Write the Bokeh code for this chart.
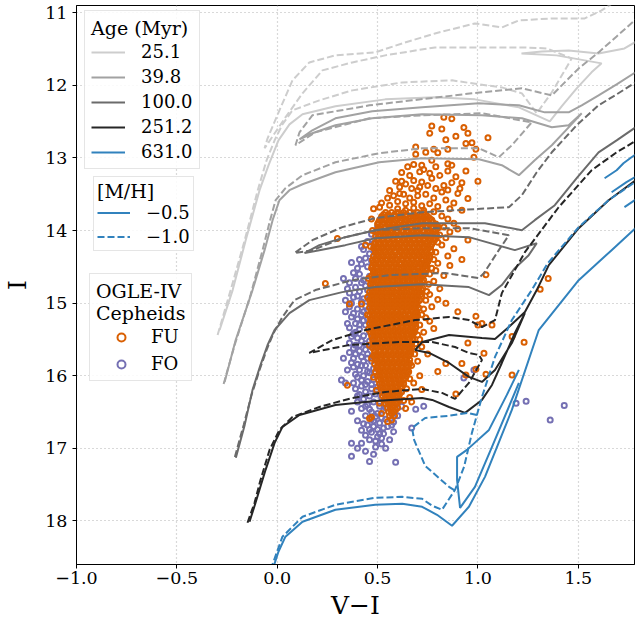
from bokeh.plotting import figure
from bokeh.models import Range1d, Legend, LegendItem, FixedTicker, CustomJSTickFormatter
from bokeh.embed import file_html
from bokeh.resources import INLINE

SERIF = "DejaVu Serif"

# ---------------------------------------------------------------------------
# Isochrone tracks, (V-I, I) pairs.  Solid: [M/H] = -0.5, dashed: [M/H] = -1.0
# ---------------------------------------------------------------------------
iso_25_solid = [(-0.287, 15.370), (-0.222, 14.820), (-0.157, 14.133), (-0.088, 13.444), (-0.043, 13.100),
                (0.006, 12.757), (0.061, 12.537), (0.126, 12.399), (0.290, 12.289), (0.538, 12.193),
                (0.786, 12.165), (0.985, 12.193), (1.204, 12.303), (1.358, 12.495), (1.417, 12.289),
                (1.492, 12.041), (1.566, 11.821), (1.616, 11.697), (1.532, 11.656), (1.392, 11.587),
                (1.217, 11.560), (1.318, 11.532), (1.452, 11.519), (1.601, 11.560), (1.730, 11.491),
                (1.815, 11.354)]
iso_25_dashed = [(-0.297, 15.439), (-0.232, 14.820), (-0.162, 14.133), (-0.097, 13.444), (-0.053, 13.032),
                 (-0.013, 12.757), (0.026, 12.537), (0.076, 12.344), (0.210, 12.206), (0.374, 12.069),
                 (0.623, 11.959), (0.871, 11.931), (1.005, 11.986), (1.119, 12.028), (1.219, 12.110),
                 (1.293, 12.385), (1.368, 12.096), (1.427, 11.821), (1.467, 11.629), (1.343, 11.491),
                 (1.219, 11.477), (1.005, 11.477), (0.786, 11.477), (0.538, 11.587), (0.374, 11.684),
                 (0.225, 11.794), (0.126, 12.110), (0.041, 12.440), (-0.063, 12.867), (-0.048, 12.729),
                 (0.011, 12.344), (0.076, 11.931), (0.160, 11.684), (0.290, 11.587), (0.488, 11.546),
                 (0.623, 11.422), (0.786, 11.285), (0.985, 11.147), (1.119, 11.202), (1.204, 11.106),
                 (1.368, 11.078), (1.532, 11.078), (1.616, 10.968), (1.676, 10.858)]

iso_40_solid = [(-0.262, 16.085), (-0.207, 15.508), (-0.123, 14.820), (-0.063, 14.270), (-0.023, 13.857),
                (0.011, 13.582), (0.061, 13.444), (0.126, 13.362), (0.290, 13.197), (0.508, 13.059),
                (0.722, 13.004), (1.005, 13.018), (1.119, 13.100), (1.204, 13.238), (1.283, 13.032),
                (1.368, 12.825), (1.452, 12.578), (1.517, 12.385), (1.452, 12.550), (1.368, 12.578),
                (1.219, 12.454), (1.020, 12.413), (0.722, 12.399), (0.473, 12.454), (0.290, 12.550),
                (0.175, 12.660), (0.111, 12.743), (0.175, 12.619), (0.290, 12.454), (0.473, 12.358),
                (0.722, 12.303), (1.005, 12.248), (1.204, 12.275), (1.333, 12.372), (1.452, 12.372),
                (1.517, 12.275), (1.601, 12.138), (1.691, 11.986), (1.785, 11.821), (1.840, 11.711)]
iso_40_dashed = [(-0.267, 16.113), (-0.212, 15.577), (-0.133, 14.889), (-0.073, 14.270), (-0.038, 13.884),
                 (-0.008, 13.582), (0.041, 13.417), (0.126, 13.238), (0.290, 13.059), (0.508, 12.935),
                 (0.722, 12.867), (1.005, 12.867), (1.104, 12.990), (1.169, 12.825), (1.268, 12.509),
                 (1.020, 12.385), (0.722, 12.413), (0.459, 12.454), (0.190, 12.647), (0.091, 12.825),
                 (0.111, 12.647), (0.175, 12.413), (0.459, 12.275), (0.672, 12.206), (0.970, 12.110),
                 (1.219, 12.041), (1.368, 12.138), (1.502, 11.766), (1.601, 11.546), (1.691, 11.326),
                 (1.780, 11.106), (1.840, 10.968)]

iso_100_solid = [(-0.206, 17.131), (-0.162, 16.677), (-0.123, 16.195), (-0.083, 15.851), (-0.048, 15.576),
                 (-0.013, 15.370), (0.061, 15.137), (0.160, 14.958), (0.324, 14.848), (0.488, 14.779),
                 (0.722, 14.738), (0.955, 14.779), (1.055, 14.889), (1.119, 14.751), (1.184, 14.518),
                 (1.253, 14.339), (1.293, 14.174), (1.184, 14.270), (0.955, 14.091), (0.722, 14.064),
                 (0.488, 14.105), (0.339, 14.201), (0.210, 14.270), (0.136, 14.311), (0.210, 14.201),
                 (0.339, 14.091), (0.488, 13.995), (0.722, 13.898), (1.035, 13.898), (1.219, 13.995),
                 (1.283, 13.857), (1.383, 13.651), (1.492, 13.279), (1.601, 12.922), (1.691, 12.757),
                 (1.785, 12.578), (1.840, 12.454)]
iso_100_dashed = [(-0.211, 17.118), (-0.167, 16.677), (-0.128, 16.264), (-0.088, 15.920), (-0.053, 15.645),
                  (-0.018, 15.411), (0.026, 15.191), (0.086, 14.958), (0.190, 14.820), (0.374, 14.683),
                  (0.558, 14.614), (0.836, 14.586), (1.005, 14.655), (1.030, 14.586), (1.104, 14.270),
                  (1.154, 14.064), (0.955, 13.967), (0.722, 13.967), (0.488, 13.995), (0.339, 14.091),
                  (0.175, 14.270), (0.086, 14.311), (0.175, 14.133), (0.324, 13.953), (0.488, 13.829),
                  (0.722, 13.747), (1.154, 13.678), (1.219, 13.513), (1.293, 13.197), (1.368, 12.922),
                  (1.492, 12.550), (1.601, 12.275), (1.691, 12.124), (1.785, 11.959), (1.840, 11.862)]

iso_251_solid = [(-0.138, 18.011), (-0.108, 17.750), (-0.058, 17.296), (-0.013, 16.924), (0.026, 16.704),
                 (0.111, 16.540), (0.290, 16.402), (0.488, 16.347), (0.722, 16.306), (0.772, 16.333),
                 (0.856, 16.430), (0.936, 16.512), (1.020, 16.333), (1.070, 16.127), (1.119, 15.824),
                 (1.184, 15.411), (1.234, 15.137), (1.169, 15.549), (1.085, 15.920), (1.020, 16.085),
                 (0.955, 16.016), (0.856, 15.824), (0.757, 15.686), (0.687, 15.645), (0.722, 15.535),
                 (0.856, 15.439), (1.020, 15.480), (1.085, 15.494), (1.154, 15.329), (1.234, 15.123),
                 (1.293, 14.820), (1.353, 14.476), (1.502, 13.967), (1.651, 13.582), (1.840, 13.197)]
iso_251_dashed = [(-0.148, 18.025), (-0.113, 17.750), (-0.083, 17.434), (-0.038, 17.021), (0.011, 16.746),
                  (0.076, 16.567), (0.210, 16.430), (0.374, 16.306), (0.538, 16.223), (0.722, 16.182),
                  (0.821, 16.237), (0.886, 16.319), (0.955, 16.099), (1.020, 15.783), (1.005, 15.714),
                  (0.955, 15.686), (0.886, 15.604), (0.772, 15.535), (0.608, 15.535), (0.359, 15.576),
                  (0.160, 15.686), (0.275, 15.508), (0.439, 15.370), (0.687, 15.233), (0.856, 15.191),
                  (0.955, 15.233), (1.020, 15.329), (1.085, 15.233), (1.119, 14.862), (1.234, 14.298),
                  (1.402, 13.679), (1.566, 13.170), (1.691, 12.922), (1.840, 12.675)]

iso_631_solid = [(-0.023, 18.671), (0.006, 18.424), (0.041, 18.217), (0.126, 18.011), (0.290, 17.846),
                 (0.488, 17.777), (0.623, 17.764), (0.722, 17.805), (0.796, 17.915), (0.871, 18.066),
                 (0.955, 17.805), (1.035, 17.393), (1.169, 16.471), (1.303, 15.370), (1.502, 14.683),
                 (1.666, 14.270), (1.840, 13.829)]
iso_631_solid_loop = [(1.204, 16.099), (1.070, 16.980), (0.985, 17.530), (0.911, 17.819), (0.896, 17.434),
                      (0.896, 17.118), (0.945, 17.021), (1.055, 16.746), (1.144, 16.264), (1.204, 15.920)]
iso_631_solid_agb = [[(1.631, 13.279), (1.691, 13.169), (1.725, 13.073), (1.765, 12.990), (1.840, 12.853)],
                     [(1.666, 13.472), (1.740, 13.334), (1.840, 13.169)],
                     [(1.730, 13.678), (1.840, 13.472)]]
iso_631_dashed = [(-0.033, 18.671), (0.026, 18.217), (0.126, 17.942), (0.290, 17.777), (0.488, 17.681),
                  (0.623, 17.668), (0.722, 17.695), (0.772, 17.791), (0.821, 17.846), (0.886, 17.571),
                  (0.931, 17.255), (0.970, 16.787), (1.020, 16.292), (1.085, 15.741), (1.169, 15.232),
                  (1.268, 14.820), (1.348, 14.449), (1.502, 13.953), (1.651, 13.582), (1.840, 13.224)]
iso_631_dashed_loop = [(0.995, 16.540), (0.950, 16.512), (0.851, 16.553), (0.737, 16.581), (0.672, 16.719),
                       (0.682, 16.884), (0.737, 17.241), (0.856, 17.530), (0.896, 17.599)]

ages = ["25.1", "39.8", "100.0", "251.2", "631.0"]
age_colors = ["#cdcdcd", "#a2a2a2", "#6b6b6b", "#262626", "#3182bd"]
mh_labels = ["\u22120.5", "\u22121.0"]

# ---------------------------------------------------------------------------
# OGLE-IV Cepheids in the (V-I, I) plane
# ---------------------------------------------------------------------------
# fundamental-mode core: one row of V-I values per I level (two interleaved sets)
fu_core_rows = [
    (13.750, [0.54, 0.57, 0.60, 0.63, 0.66, 0.70, 0.73]),
    (13.805, [0.52, 0.555, 0.585, 0.61, 0.64, 0.665, 0.69, 0.72, 0.75]),
    (13.855, [0.51, 0.535, 0.56, 0.59, 0.615, 0.64, 0.67, 0.695, 0.72, 0.745, 0.77]),
    (13.910, [0.50, 0.525, 0.55, 0.575, 0.60, 0.63, 0.655, 0.68, 0.705, 0.73, 0.76, 0.79]),
    (13.965, [0.505, 0.535, 0.56, 0.585, 0.61, 0.64, 0.665, 0.69, 0.715, 0.745, 0.77, 0.80]),
    (14.020, [0.495, 0.52, 0.545, 0.57, 0.595, 0.625, 0.65, 0.675, 0.70, 0.73, 0.755, 0.78]),
    (14.075, [0.49, 0.515, 0.54, 0.565, 0.59, 0.615, 0.64, 0.665, 0.69, 0.715, 0.74, 0.765, 0.795]),
    (14.130, [0.50, 0.525, 0.55, 0.58, 0.605, 0.63, 0.655, 0.68, 0.705, 0.73, 0.76, 0.785]),
    (14.185, [0.485, 0.51, 0.535, 0.56, 0.585, 0.61, 0.64, 0.665, 0.69, 0.715, 0.74, 0.77]),
    (14.240, [0.48, 0.505, 0.53, 0.555, 0.58, 0.605, 0.63, 0.655, 0.68, 0.705, 0.73, 0.755]),
    (14.295, [0.49, 0.515, 0.54, 0.565, 0.59, 0.615, 0.645, 0.67, 0.695, 0.72, 0.745, 0.77]),
    (14.350, [0.48, 0.505, 0.53, 0.555, 0.58, 0.61, 0.635, 0.66, 0.685, 0.71, 0.735, 0.76]),
    (14.405, [0.475, 0.50, 0.525, 0.55, 0.575, 0.60, 0.625, 0.65, 0.675, 0.70, 0.725, 0.75]),
    (14.460, [0.485, 0.51, 0.535, 0.56, 0.59, 0.615, 0.64, 0.665, 0.69, 0.715, 0.74]),
    (14.515, [0.47, 0.495, 0.52, 0.545, 0.57, 0.595, 0.62, 0.645, 0.67, 0.70, 0.725, 0.745]),
    (14.570, [0.48, 0.505, 0.53, 0.555, 0.58, 0.605, 0.63, 0.655, 0.68, 0.705, 0.73]),
    (14.625, [0.47, 0.495, 0.52, 0.545, 0.57, 0.60, 0.625, 0.65, 0.675, 0.70, 0.725]),
    (14.680, [0.475, 0.50, 0.525, 0.55, 0.575, 0.60, 0.63, 0.655, 0.68, 0.705, 0.73]),
    (14.735, [0.465, 0.49, 0.515, 0.54, 0.565, 0.59, 0.615, 0.64, 0.665, 0.69, 0.715]),
    (14.790, [0.47, 0.50, 0.525, 0.55, 0.575, 0.60, 0.625, 0.65, 0.68, 0.705, 0.725]),
    (14.845, [0.46, 0.485, 0.51, 0.535, 0.56, 0.585, 0.61, 0.635, 0.66, 0.685, 0.71]),
    (14.900, [0.47, 0.495, 0.52, 0.545, 0.57, 0.595, 0.62, 0.645, 0.67, 0.695, 0.72]),
    (14.955, [0.46, 0.485, 0.51, 0.535, 0.56, 0.59, 0.615, 0.64, 0.665, 0.69, 0.71]),
    (15.010, [0.465, 0.49, 0.515, 0.54, 0.565, 0.59, 0.615, 0.64, 0.665, 0.69]),
    (15.065, [0.46, 0.485, 0.51, 0.535, 0.56, 0.585, 0.61, 0.635, 0.66, 0.685, 0.705]),
    (15.120, [0.47, 0.495, 0.52, 0.545, 0.57, 0.595, 0.62, 0.645, 0.67, 0.695]),
    (15.175, [0.46, 0.485, 0.51, 0.535, 0.56, 0.585, 0.61, 0.635, 0.66, 0.685, 0.70]),
    (15.230, [0.465, 0.49, 0.515, 0.54, 0.565, 0.59, 0.615, 0.64, 0.665, 0.69]),
    (15.285, [0.46, 0.485, 0.51, 0.535, 0.56, 0.585, 0.61, 0.635, 0.66, 0.685]),
    (15.340, [0.47, 0.495, 0.52, 0.545, 0.57, 0.595, 0.62, 0.645, 0.67, 0.69]),
    (15.395, [0.465, 0.49, 0.515, 0.54, 0.565, 0.59, 0.615, 0.64, 0.665, 0.685]),
    (15.450, [0.47, 0.495, 0.52, 0.545, 0.57, 0.595, 0.62, 0.645, 0.67]),
    (15.505, [0.475, 0.50, 0.525, 0.55, 0.575, 0.60, 0.625, 0.65, 0.675]),
    (15.560, [0.48, 0.505, 0.53, 0.555, 0.58, 0.605, 0.63, 0.655, 0.67]),
    (15.615, [0.475, 0.50, 0.525, 0.55, 0.575, 0.60, 0.625, 0.65, 0.67]),
    (15.670, [0.485, 0.51, 0.535, 0.56, 0.585, 0.61, 0.635, 0.66]),
    (15.725, [0.48, 0.505, 0.53, 0.555, 0.58, 0.605, 0.63, 0.655]),
    (15.780, [0.49, 0.515, 0.54, 0.565, 0.59, 0.615, 0.64, 0.66]),
    (15.835, [0.485, 0.51, 0.535, 0.56, 0.585, 0.61, 0.635, 0.66]),
    (15.890, [0.495, 0.52, 0.545, 0.57, 0.595, 0.62, 0.645]),
    (15.945, [0.49, 0.515, 0.54, 0.565, 0.59, 0.615, 0.64, 0.655]),
    (16.000, [0.50, 0.525, 0.55, 0.575, 0.60, 0.625, 0.645]),
    (16.055, [0.505, 0.53, 0.555, 0.58, 0.605, 0.63]),
    (16.110, [0.51, 0.535, 0.56, 0.585, 0.61, 0.63]),
    (16.165, [0.515, 0.54, 0.565, 0.59, 0.615]),
    (16.220, [0.52, 0.545, 0.57, 0.595, 0.62]),
    (16.275, [0.525, 0.55, 0.575, 0.60]),
    (16.330, [0.535, 0.56, 0.585, 0.61]),
    (16.385, [0.54, 0.565, 0.59]),
    (16.440, [0.55, 0.575, 0.60]),
    (16.495, [0.555, 0.58]),
    (16.550, [0.56, 0.585]),
    (16.610, [0.57]),
    (13.780, [0.53, 0.555, 0.585, 0.615, 0.645, 0.68, 0.71, 0.74]),
    (13.830, [0.52, 0.545, 0.57, 0.60, 0.625, 0.655, 0.68, 0.705, 0.735, 0.76]),
    (13.885, [0.505, 0.53, 0.56, 0.585, 0.61, 0.64, 0.665, 0.69, 0.72, 0.745, 0.775]),
    (13.940, [0.515, 0.54, 0.565, 0.59, 0.615, 0.645, 0.67, 0.695, 0.72, 0.745, 0.775, 0.80]),
    (13.995, [0.50, 0.52, 0.55, 0.575, 0.60, 0.625, 0.65, 0.68, 0.705, 0.73, 0.76, 0.79]),
    (14.050, [0.505, 0.53, 0.555, 0.58, 0.61, 0.635, 0.66, 0.685, 0.71, 0.74, 0.765, 0.79]),
    (14.105, [0.50, 0.525, 0.55, 0.575, 0.60, 0.625, 0.65, 0.68, 0.705, 0.73, 0.755, 0.78]),
    (14.160, [0.49, 0.515, 0.54, 0.565, 0.59, 0.62, 0.645, 0.67, 0.695, 0.72, 0.75, 0.775]),
    (14.215, [0.495, 0.52, 0.545, 0.57, 0.595, 0.625, 0.65, 0.675, 0.70, 0.725, 0.75, 0.765]),
    (14.270, [0.49, 0.515, 0.54, 0.565, 0.59, 0.62, 0.645, 0.67, 0.695, 0.72, 0.745, 0.765]),
    (14.325, [0.495, 0.52, 0.545, 0.57, 0.60, 0.625, 0.65, 0.675, 0.70, 0.725, 0.75]),
    (14.380, [0.49, 0.515, 0.54, 0.565, 0.59, 0.62, 0.645, 0.67, 0.695, 0.72, 0.745, 0.76]),
    (14.435, [0.48, 0.505, 0.53, 0.56, 0.585, 0.61, 0.635, 0.66, 0.685, 0.71, 0.735, 0.75]),
    (14.490, [0.475, 0.50, 0.525, 0.55, 0.575, 0.60, 0.63, 0.655, 0.68, 0.705, 0.73, 0.745]),
    (14.545, [0.48, 0.51, 0.535, 0.56, 0.585, 0.61, 0.635, 0.66, 0.685, 0.715, 0.74]),
    (14.600, [0.48, 0.505, 0.53, 0.555, 0.585, 0.61, 0.635, 0.66, 0.69, 0.715, 0.735]),
    (14.655, [0.485, 0.51, 0.535, 0.56, 0.59, 0.615, 0.64, 0.665, 0.69, 0.715]),
    (14.710, [0.475, 0.50, 0.53, 0.555, 0.58, 0.605, 0.63, 0.655, 0.68, 0.705, 0.725]),
    (14.765, [0.48, 0.505, 0.53, 0.555, 0.58, 0.61, 0.635, 0.66, 0.685, 0.71]),
    (14.820, [0.475, 0.50, 0.52, 0.545, 0.57, 0.595, 0.62, 0.645, 0.67, 0.695, 0.72]),
    (14.875, [0.47, 0.495, 0.52, 0.55, 0.575, 0.60, 0.625, 0.65, 0.675, 0.70, 0.715]),
    (14.930, [0.475, 0.50, 0.525, 0.55, 0.575, 0.60, 0.63, 0.655, 0.68, 0.70]),
    (14.985, [0.47, 0.50, 0.525, 0.55, 0.575, 0.60, 0.625, 0.65, 0.675, 0.70]),
    (15.040, [0.475, 0.50, 0.525, 0.55, 0.575, 0.60, 0.625, 0.65, 0.675, 0.695]),
    (15.095, [0.47, 0.495, 0.52, 0.545, 0.57, 0.595, 0.625, 0.65, 0.675, 0.69]),
    (15.150, [0.475, 0.50, 0.525, 0.55, 0.575, 0.60, 0.63, 0.655, 0.68, 0.695]),
    (15.205, [0.47, 0.50, 0.525, 0.55, 0.575, 0.60, 0.625, 0.65, 0.675, 0.69]),
    (15.260, [0.475, 0.50, 0.525, 0.55, 0.575, 0.60, 0.625, 0.65, 0.675]),
    (15.315, [0.47, 0.495, 0.52, 0.545, 0.57, 0.60, 0.625, 0.65, 0.675, 0.69]),
    (15.370, [0.475, 0.50, 0.53, 0.555, 0.58, 0.605, 0.63, 0.655, 0.68]),
    (15.425, [0.48, 0.505, 0.53, 0.555, 0.58, 0.605, 0.63, 0.655, 0.675]),
    (15.480, [0.48, 0.505, 0.535, 0.56, 0.585, 0.61, 0.635, 0.66, 0.675]),
    (15.535, [0.49, 0.515, 0.54, 0.565, 0.59, 0.615, 0.64, 0.665]),
    (15.590, [0.49, 0.515, 0.54, 0.565, 0.59, 0.615, 0.64, 0.66]),
    (15.645, [0.485, 0.51, 0.535, 0.56, 0.59, 0.615, 0.64, 0.665]),
    (15.700, [0.495, 0.52, 0.545, 0.57, 0.595, 0.62, 0.645, 0.665]),
    (15.755, [0.495, 0.52, 0.545, 0.57, 0.595, 0.62, 0.645]),
    (15.810, [0.50, 0.525, 0.55, 0.575, 0.60, 0.625, 0.65]),
    (15.865, [0.50, 0.525, 0.55, 0.575, 0.60, 0.625, 0.65]),
    (15.920, [0.505, 0.53, 0.555, 0.58, 0.605, 0.63, 0.65]),
    (15.975, [0.51, 0.535, 0.56, 0.585, 0.61, 0.635]),
    (16.030, [0.515, 0.54, 0.565, 0.59, 0.615, 0.64]),
    (16.085, [0.52, 0.545, 0.57, 0.595, 0.62]),
    (16.140, [0.525, 0.55, 0.575, 0.60, 0.62]),
    (16.195, [0.53, 0.555, 0.58, 0.605]),
    (16.250, [0.535, 0.56, 0.585, 0.61]),
    (16.305, [0.545, 0.57, 0.595]),
    (16.360, [0.55, 0.575, 0.60]),
    (16.415, [0.56, 0.585]),
    (16.470, [0.565, 0.59]),
    (16.525, [0.57]),
]

# fundamental-mode stars outside the core
fu_bright = [(0.83, 12.44), (0.87, 12.46), (0.77, 12.56), (0.82, 12.60), (0.76, 12.66), (0.93, 12.58),
             (0.95, 12.66), (0.89, 12.70), (0.84, 12.75), (1.05, 12.72), (0.97, 12.79), (0.94, 12.80),
             (0.69, 12.85), (0.85, 12.88), (0.99, 12.88), (0.74, 12.92), (0.78, 12.88), (0.80, 12.93),
             (0.69, 12.95), (0.77, 13.03), (0.98, 12.99), (0.85, 13.08), (0.72, 13.10), (0.65, 13.12),
             (0.68, 13.09), (0.87, 13.10), (0.85, 13.18), (0.71, 13.19), (0.76, 13.21), (0.81, 13.24),
             (0.73, 13.16), (0.79, 13.12), (0.89, 13.26), (0.94, 13.18), (0.66, 13.24), (0.62, 13.20),
             (0.59, 13.32), (0.62, 13.32), (0.68, 13.31), (0.72, 13.33), (0.77, 13.28), (0.87, 13.34),
             (0.92, 13.34), (1.00, 13.32), (0.64, 13.36), (0.75, 13.38), (0.83, 13.38), (0.61, 13.40),
             (0.67, 13.42), (0.71, 13.40), (0.79, 13.42), (0.91, 13.42), (0.56, 13.45), (0.70, 13.45),
             (0.82, 13.47), (0.85, 13.44), (0.61, 13.49), (0.90, 13.49), (0.63, 13.50), (0.74, 13.50),
             (0.58, 13.52), (0.70, 13.52), (0.55, 13.55), (0.66, 13.55), (0.78, 13.55), (0.95, 13.56),
             (0.84, 13.58), (0.60, 13.60), (0.68, 13.61), (0.52, 13.62), (0.88, 13.62), (0.64, 13.63),
             (0.76, 13.63), (0.56, 13.65), (0.72, 13.66), (0.80, 13.67), (0.51, 13.68), (0.68, 13.69),
             (0.48, 13.70), (0.60, 13.70), (0.86, 13.70), (0.64, 13.72), (0.73, 13.72), (0.92, 13.72),
             (0.78, 13.74)]
fu_sides = [(0.24, 14.73), (0.30, 14.11), (0.36, 15.01), (0.42, 15.01), (0.35, 16.13), (0.44, 14.20),
            (0.47, 16.57), (0.55, 16.63), (0.46, 16.59), (0.67, 16.36),
            (0.82, 13.80), (0.85, 13.84), (0.88, 13.90), (0.83, 13.95), (0.86, 14.02), (0.90, 13.98),
            (0.95, 14.13), (0.84, 14.10), (0.82, 14.20), (0.88, 14.25), (0.85, 14.35), (0.92, 14.40),
            (0.86, 14.48), (0.80, 14.45), (0.79, 14.55), (0.83, 14.62), (0.78, 14.70), (0.81, 14.80),
            (0.76, 14.88), (0.80, 14.95), (0.84, 15.00), (0.77, 15.05), (0.90, 15.12), (0.74, 15.20),
            (0.99, 15.18), (0.76, 15.25), (1.02, 15.28), (1.00, 15.30), (1.07, 15.30), (0.78, 15.35),
            (0.73, 15.40), (1.17, 15.46), (0.71, 15.50), (1.23, 15.54), (0.95, 15.55), (0.72, 15.60),
            (1.03, 15.69), (0.75, 15.70), (0.70, 15.80), (0.92, 15.83), (0.84, 15.83), (0.99, 15.91),
            (0.80, 15.94), (1.04, 15.98), (0.94, 15.99), (1.17, 15.99), (0.71, 16.00), (0.68, 16.10),
            (0.72, 16.19), (0.89, 16.25), (0.66, 16.30), (0.64, 16.45), (1.04, 14.61), (1.35, 14.66),
            (1.31, 14.81)]
# stars along the ragged edge of the core
fu_edge = [(0.745, 13.88), (0.79, 13.93), (0.81, 14.06), (0.80, 14.16), (0.79, 14.30), (0.78, 14.40),
           (0.77, 14.52), (0.76, 14.60), (0.755, 14.74), (0.745, 14.84), (0.74, 14.96), (0.73, 15.08),
           (0.72, 15.16), (0.71, 15.30), (0.70, 15.44), (0.69, 15.56), (0.685, 15.70), (0.67, 15.86),
           (0.66, 16.04), (0.645, 16.18), (0.63, 16.34), (0.455, 14.66), (0.45, 14.92), (0.45, 15.16),
           (0.455, 15.36), (0.46, 15.58), (0.47, 15.76), (0.48, 16.02), (0.495, 16.20), (0.51, 16.38),
           (0.52, 16.52), (0.47, 13.84), (0.475, 14.00), (0.465, 14.22)]

# first-overtone stars
fo_stars = [(0.52, 13.86), (0.55, 13.80), (0.50, 13.95), (0.47, 14.05), (0.53, 14.02), (0.45, 14.15),
            (0.42, 14.22), (0.48, 14.18), (0.43, 14.26), (0.37, 14.44), (0.42, 14.46), (0.46, 14.32),
            (0.44, 14.38), (0.40, 14.52), (0.33, 14.66), (0.38, 14.58), (0.45, 14.50), (0.41, 14.60),
            (0.36, 14.72), (0.43, 14.68), (0.39, 14.78), (0.34, 14.96), (0.36, 14.86), (0.41, 14.84),
            (0.44, 14.76), (0.46, 14.90), (0.38, 14.92), (0.42, 14.98), (0.36, 15.05), (0.40, 15.08),
            (0.44, 15.04), (0.34, 15.12), (0.37, 15.19), (0.39, 15.28), (0.42, 15.16), (0.45, 15.22),
            (0.36, 15.34), (0.41, 15.36), (0.44, 15.30), (0.38, 15.42), (0.36, 15.55), (0.40, 15.48),
            (0.43, 15.45), (0.46, 15.52), (0.33, 15.76), (0.38, 15.62), (0.41, 15.58), (0.44, 15.64),
            (0.39, 15.70), (0.42, 15.74), (0.45, 15.70), (0.37, 15.82), (0.41, 15.92), (0.44, 15.86),
            (0.47, 15.80), (0.34, 16.10), (0.38, 16.10), (0.32, 16.06), (0.40, 16.02), (0.43, 16.00),
            (0.46, 15.96), (0.39, 16.18), (0.42, 16.14), (0.45, 16.08), (0.48, 16.05), (0.41, 16.26),
            (0.44, 16.22), (0.47, 16.18), (0.50, 16.15), (0.37, 16.49), (0.40, 16.36), (0.43, 16.32),
            (0.46, 16.28), (0.49, 16.25), (0.52, 16.30), (0.40, 16.62), (0.42, 16.75), (0.42, 16.45),
            (0.45, 16.40), (0.48, 16.36), (0.51, 16.42), (0.56, 16.38), (0.58, 16.33), (0.62, 16.42),
            (0.44, 16.55), (0.47, 16.50), (0.50, 16.52), (0.53, 16.48), (0.57, 16.52), (0.60, 16.55),
            (0.45, 16.68), (0.48, 16.62), (0.51, 16.65), (0.54, 16.60), (0.58, 16.64), (0.67, 16.72),
            (0.69, 16.46), (0.73, 16.42), (0.58, 16.77), (0.56, 16.88), (0.44, 16.82), (0.47, 16.78),
            (0.50, 16.74), (0.53, 16.80), (0.49, 16.90), (0.52, 16.86), (0.37, 16.93), (0.42, 16.93),
            (0.54, 17.00), (0.49, 16.98), (0.44, 17.04), (0.46, 17.18), (0.37, 17.11), (0.59, 17.19),
            (0.98, 15.92), (0.93, 16.03), (1.19, 16.38), (1.24, 16.35), (1.36, 16.61), (1.43, 16.41),
            (0.47, 14.42), (0.49, 14.30), (0.48, 14.55), (0.46, 14.63), (0.47, 14.72), (0.45, 14.82),
            (0.48, 14.86), (0.43, 14.94), (0.47, 14.98), (0.45, 15.10), (0.48, 15.14), (0.43, 15.24),
            (0.47, 15.28), (0.40, 15.22), (0.38, 15.14), (0.46, 15.40), (0.48, 15.46), (0.39, 15.58),
            (0.47, 15.60), (0.45, 15.76), (0.49, 15.72), (0.43, 15.80), (0.40, 15.84), (0.48, 15.90),
            (0.45, 15.94), (0.39, 15.98), (0.50, 16.00), (0.42, 16.06), (0.47, 16.12), (0.52, 16.20),
            (0.55, 16.25), (0.44, 16.42), (0.54, 16.44), (0.47, 16.60), (0.52, 16.58), (0.55, 16.70),
            (0.48, 16.70), (0.46, 16.88), (0.51, 16.80), (0.35, 14.80), (0.37, 15.00), (0.35, 15.28),
            (0.37, 15.46), (0.36, 15.68), (0.38, 15.88), (0.35, 15.92),
            (0.41, 14.40), (0.39, 14.66), (0.42, 14.72), (0.40, 14.90), (0.43, 15.12), (0.41, 15.30),
            (0.39, 15.40), (0.42, 15.52), (0.44, 15.56), (0.41, 15.66), (0.38, 15.76), (0.42, 15.86),
            (0.44, 16.12), (0.40, 16.28), (0.46, 16.46), (0.49, 16.56), (0.43, 16.66), (0.46, 16.74),
            (0.50, 16.84), (0.53, 16.72), (0.57, 16.68), (0.48, 17.08), (0.52, 16.94), (0.40, 17.00)]

FU_COLOR = "#d95f02"
FO_COLOR = "#7570b3"

x_ticks = [-1.0, -0.5, 0.0, 0.5, 1.0, 1.5]
y_ticks = [11, 12, 13, 14, 15, 16, 17, 18]


def split(pts):
    return [q[0] for q in pts], [q[1] for q in pts]


p = figure(width=637, height=622, output_backend="svg", toolbar_location=None,
           x_range=Range1d(-1.0, 1.78), y_range=Range1d(18.60, 10.90),
           min_border_left=73, min_border_right=3, min_border_top=5, min_border_bottom=57)
p.background_fill_color = "white"
p.border_fill_color = "white"
p.outline_line_color = "black"
p.outline_line_width = 1

# axes
p.xaxis.ticker = FixedTicker(ticks=x_ticks)
p.yaxis.ticker = FixedTicker(ticks=y_ticks)
p.xaxis.formatter = CustomJSTickFormatter(
    code="return (tick < 0 ? '\\u2212' : '') + Math.abs(tick).toFixed(1);")
for ax in (p.xaxis, p.yaxis):
    ax.major_label_text_font = SERIF
    ax.major_label_text_font_size = "17.5px"
    ax.major_label_text_color = "black"
    ax.axis_label_text_font = SERIF
    ax.axis_label_text_font_size = "25px"
    ax.axis_label_text_font_style = "normal"
    ax.axis_label_text_color = "black"
    ax.axis_line_color = "black"
    ax.major_tick_line_color = "black"
    ax.major_tick_out = 4
    ax.major_tick_in = 0
    ax.minor_tick_line_color = None
p.xaxis.axis_label = "V\u2212I"
p.yaxis.axis_label = "I"
p.xaxis.major_label_standoff = 3
p.yaxis.major_label_standoff = 5
p.xaxis.axis_label_standoff = 4
p.yaxis.axis_label_standoff = 10

for g in (p.xgrid, p.ygrid):
    g.grid_line_color = "#b3b3b3"
    g.grid_line_width = 1.2
    g.grid_line_dash = "1 3"

# Cepheids (first overtone below, fundamental on top)
fo_x, fo_i = split(fo_stars)
fu_x, fu_i = [], []
for mag, row in fu_core_rows:
    fu_x.extend(row)
    fu_i.extend([mag] * len(row))
for vi, mag in fu_bright + fu_sides + fu_edge:
    fu_x.append(vi)
    fu_i.append(mag)

r_fo = p.scatter(fo_x, fo_i, marker="circle", size=5, fill_color=None,
                 line_color=FO_COLOR, line_width=2)
r_fu = p.scatter(fu_x, fu_i, marker="circle", size=5, fill_color=None,
                 line_color=FU_COLOR, line_width=2)


def track(pts, color, dash):
    xs, ys = split(pts)
    return p.line(xs, ys, line_color=color, line_width=2, line_dash=dash)


DASH = "7 3"
r25 = track(iso_25_solid, age_colors[0], "solid")
track(iso_25_dashed, age_colors[0], DASH)
r40 = track(iso_40_solid, age_colors[1], "solid")
track(iso_40_dashed, age_colors[1], DASH)
r100 = track(iso_100_solid, age_colors[2], "solid")
track(iso_100_dashed, age_colors[2], DASH)
r251 = track(iso_251_solid, age_colors[3], "solid")
track(iso_251_dashed, age_colors[3], DASH)
r631 = track(iso_631_solid, age_colors[4], "solid")
track(iso_631_solid_loop, age_colors[4], "solid")
for seg in iso_631_solid_agb:
    track(seg, age_colors[4], "solid")
r631d = track(iso_631_dashed, age_colors[4], DASH)
track(iso_631_dashed_loop, age_colors[4], DASH)


def style_legend(leg, glyph_width):
    leg.label_text_font = SERIF
    leg.label_text_font_size = "18px"
    leg.label_text_color = "black"
    leg.title_text_font = SERIF
    leg.title_text_font_size = "19px"
    leg.title_text_font_style = "normal"
    leg.title_text_color = "black"
    leg.title_standoff = 2
    leg.border_line_color = "#cccccc"
    leg.border_line_width = 1
    leg.background_fill_color = "white"
    leg.background_fill_alpha = 0.85
    leg.padding = 6
    leg.margin = 0
    leg.spacing = 4
    leg.glyph_width = glyph_width
    leg.glyph_height = 20
    leg.label_height = 20
    leg.label_standoff = 16


leg_age = Legend(items=[LegendItem(label=a, renderers=[r]) for a, r in
                        zip(ages, [r25, r40, r100, r251, r631])],
                 title="Age (Myr)", location=(8, 395))
style_legend(leg_age, 34)

leg_mh = Legend(items=[LegendItem(label=mh_labels[0], renderers=[r631]),
                       LegendItem(label=mh_labels[1], renderers=[r631d])],
                title="[M/H]", location=(17, 313))
style_legend(leg_mh, 33)
leg_mh.padding = 3
leg_mh.spacing = 3
leg_mh.title_standoff = 0
leg_mh.glyph_height = 19
leg_mh.label_height = 19

leg_ceph = Legend(items=[LegendItem(label="FU", renderers=[r_fu]),
                         LegendItem(label="FO", renderers=[r_fo])],
                  title="OGLE-IV\nCepheids", location=(13, 183))
style_legend(leg_ceph, 50)
leg_ceph.label_standoff = 5
leg_ceph.spacing = 6

for leg in (leg_age, leg_mh, leg_ceph):
    p.add_layout(leg, "center")

open("out.html", "w").write(file_html(p, INLINE))
